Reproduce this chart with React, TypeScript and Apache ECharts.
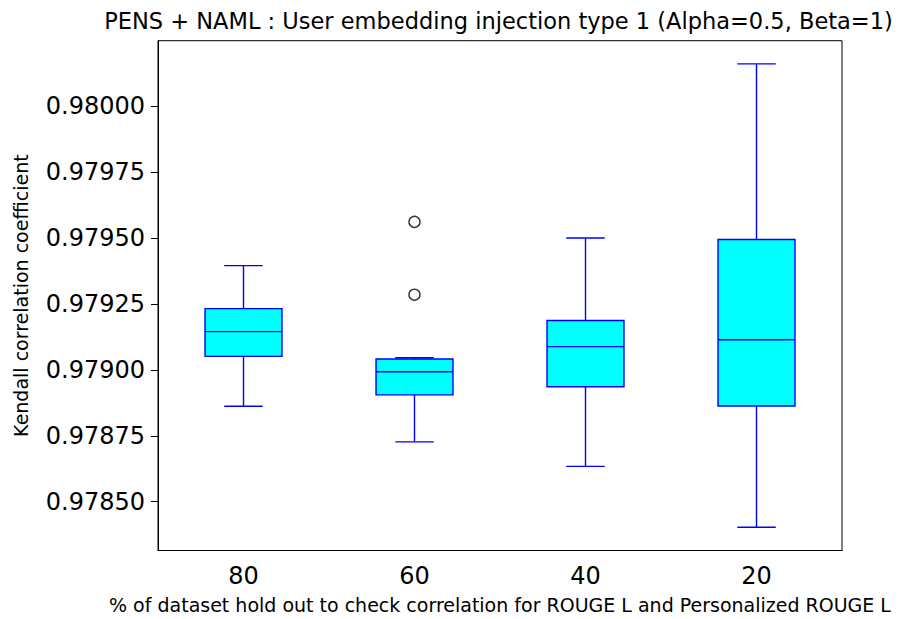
import React, { useEffect, useRef } from "react";
import * as echarts from "echarts";

const categories = ["80", "60", "40", "20"];
// [min whisker, Q1, median, Q3, max whisker]
const boxStats = [
  [0.978862, 0.979051, 0.979145, 0.979232, 0.979395],
  [0.978727, 0.978905, 0.978993, 0.979041, 0.979046],
  [0.978634, 0.978936, 0.979088, 0.979187, 0.9795],
  [0.978403, 0.978863, 0.979114, 0.979494, 0.98016],
];
const outliers = [
  [1, 0.979561],
  [1, 0.979285],
];
const yTicks = [0.9785, 0.97875, 0.979, 0.97925, 0.9795, 0.97975, 0.98];

const FONT = '"DejaVu Sans"';
const TITLE = "PENS + NAML : User embedding injection type 1 (Alpha=0.5, Beta=1)";
const XNAME = "% of dataset hold out to check correlation for ROUGE L and Personalized ROUGE L";
const YNAME = "Kendall correlation coefficient";

export default function App() {
  const ref = useRef<HTMLDivElement>(null);
  useEffect(() => {
    if (!ref.current) return;
    const chart = echarts.init(ref.current, undefined, { renderer: "svg" });
    const blue = "#0000ff";
    chart.setOption({
      animation: false,
      backgroundColor: "#ffffff",
      graphic: [
        {
          type: "text",
          x: 498.5,
          y: 20.5,
          style: {
            text: TITLE,
            textAlign: "center",
            textVerticalAlign: "middle",
            font: `22.5px ${FONT}`,
            fill: "#000",
          },
        },
      ],
      grid: {
        left: 158,
        right: 62,
        top: 40.7,
        bottom: 68.3,
        show: true,
        borderColor: "#000",
        borderWidth: 1,
        backgroundColor: "transparent",
      },
      xAxis: {
        type: "category",
        data: categories,
        boundaryGap: true,
        name: XNAME,
        nameLocation: "middle",
        nameGap: 44.5,
        nameTextStyle: { fontFamily: FONT, fontSize: 19, color: "#000" },
        axisLine: { lineStyle: { color: "#000", width: 1 } },
        axisTick: { alignWithLabel: true, length: 7, lineStyle: { color: "#000" } },
        axisLabel: { fontFamily: FONT, fontSize: 24, color: "#000", margin: 13 },
        splitLine: { show: false },
      },
      yAxis: {
        type: "value",
        min: 0.978315,
        max: 0.980248,
        name: YNAME,
        nameLocation: "middle",
        nameRotate: 90,
        nameGap: 127.5,
        nameTextStyle: { fontFamily: FONT, fontSize: 19, color: "#000" },
        axisLine: { show: true, lineStyle: { color: "#000", width: 1 } },
        axisTick: { show: true, length: 7, customValues: yTicks, lineStyle: { color: "#000" } },
        axisLabel: {
          fontFamily: FONT,
          fontSize: 24,
          color: "#000",
          margin: 13,
          customValues: yTicks,
          formatter: (v: number) => v.toFixed(5),
        },
        splitLine: { show: false },
      },
      series: [
        {
          type: "custom",
          data: boxStats.map((s, i) => [i, ...s]),
          encode: { x: 0, y: [1, 2, 3, 4, 5] },
          renderItem: (params: any, api: any) => {
            const xi = api.value(0);
            const [cx, yMin] = api.coord([xi, api.value(1)]);
            const yQ1 = api.coord([xi, api.value(2)])[1];
            const yMed = api.coord([xi, api.value(3)])[1];
            const yQ3 = api.coord([xi, api.value(4)])[1];
            const yMax = api.coord([xi, api.value(5)])[1];
            const bw = api.size([1, 0])[0] * 0.45;
            const lw = 1.4;
            const ls = { stroke: blue, lineWidth: lw };
            return {
              type: "group",
              children: [
                { type: "line", shape: { x1: cx, y1: yMax, x2: cx, y2: yQ3 }, style: ls },
                { type: "line", shape: { x1: cx, y1: yQ1, x2: cx, y2: yMin }, style: ls },
                { type: "line", shape: { x1: cx - bw / 4, y1: yMax, x2: cx + bw / 4, y2: yMax }, style: ls },
                { type: "line", shape: { x1: cx - bw / 4, y1: yMin, x2: cx + bw / 4, y2: yMin }, style: ls },
                {
                  type: "rect",
                  shape: { x: cx - bw / 2, y: yQ3, width: bw, height: yQ1 - yQ3 },
                  style: { fill: "#00ffff", stroke: blue, lineWidth: lw },
                },
                { type: "line", shape: { x1: cx - bw / 2, y1: yMed, x2: cx + bw / 2, y2: yMed }, style: ls },
              ],
            };
          },
        },
        {
          type: "scatter",
          data: outliers,
          symbol: "circle",
          symbolSize: 11,
          itemStyle: { color: "#ffffff", borderColor: "#000", borderWidth: 1.4 },
        },
      ],
    });
    return () => chart.dispose();
  }, []);
  return <div ref={ref} style={{ width: 904, height: 619, position: "absolute", left: 0, top: 0 }} />;
}
